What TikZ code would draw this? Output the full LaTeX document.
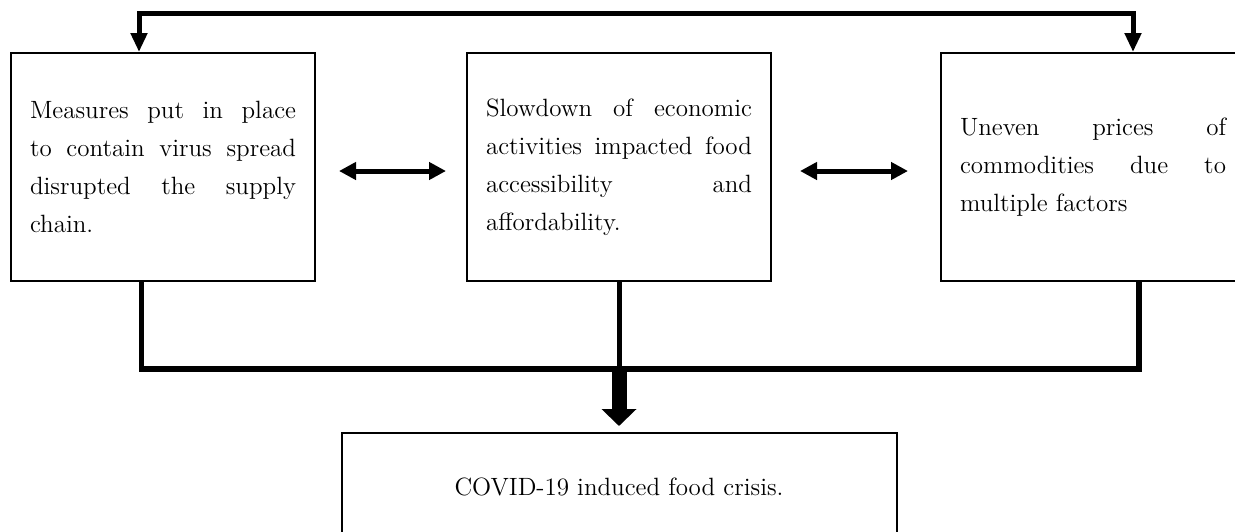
\documentclass[tikz,border=0pt]{standalone}
\usepackage{tikz}
\usetikzlibrary{positioning}
\usetikzlibrary{arrows.meta}
\usetikzlibrary{calc}

\begin{document}
\begin{tikzpicture}[
    block/.style={align=justify, rectangle, draw=black, line width=1pt, fill=white, text width=133pt, minimum width=152pt, minimum height=114pt, font=\fontsize{12.5pt}{19pt}\selectfont},
    result/.style={align=center, rectangle, draw=black, line width=1pt, fill=white, minimum width=277.5pt, minimum height=54pt, font=\fontsize{12.5pt}{19pt}\selectfont},
    feed/.style={line width=2.5pt, {Triangle[length=9.5pt,width=8pt]}-{Triangle[length=9.5pt,width=8pt]}},
    both/.style={line width=2.5pt, {Triangle[length=8.5pt,width=8.5pt]}-{Triangle[length=8.5pt,width=8.5pt]}},
]
    \useasboundingbox (0,0) rectangle (617.5pt,-265.5pt);

    \node[block, anchor=north west] (B1) at (5pt,-26pt) {Measures put in place\linebreak to contain virus spread\linebreak disrupted the supply\linebreak chain.};
    \node[block] (B2) [right=75pt of B1] {Slowdown of economic\linebreak activities impacted food\linebreak accessibility and\linebreak affordability.};
    \node[block] (B3) [right=84pt of B2] {Uneven prices of\linebreak commodities due to\linebreak multiple factors};

    \node[result] (C1) [below=75pt of B2] {COVID-19 induced food crisis.};

    % feedback line on top
    \coordinate (H1) at ($(B3.north)+(20pt,19.5pt)$);
    \draw[feed] ($(B1.north)+(-12pt,0)$) |- (H1) -- ($(B3.north)+(20pt,0)$);

    \draw[both, shorten <=11.5pt, shorten >=10pt] ([yshift=-2pt]B1.east) -- ([yshift=-2pt]B2.west);
    \draw[both, shorten <=14pt, shorten >=16pt] ([yshift=-2pt]B2.east) -- ([yshift=-2pt]B3.west);

    % joining lines below
    \coordinate (H2) at ($(B1.south)+(-10.75pt,-43.5pt)$);
    \coordinate (H3) at ($(B3.south)+(23pt,-43.5pt)$);
    \draw[line width=2.75pt] ($(B1.south)+(-10.75pt,0)$) -- (H2) -- (H3) -- ($(B3.south)+(23pt,0)$);
    \draw[line width=2.5pt] (B2.south) -- (B2.south |- H2);

    \draw[line width=7.5pt, -{Triangle[length=8.5pt,width=17pt]}, shorten >=3pt] (B2.south |- H2) -- (C1.north);

\end{tikzpicture}
\end{document}
